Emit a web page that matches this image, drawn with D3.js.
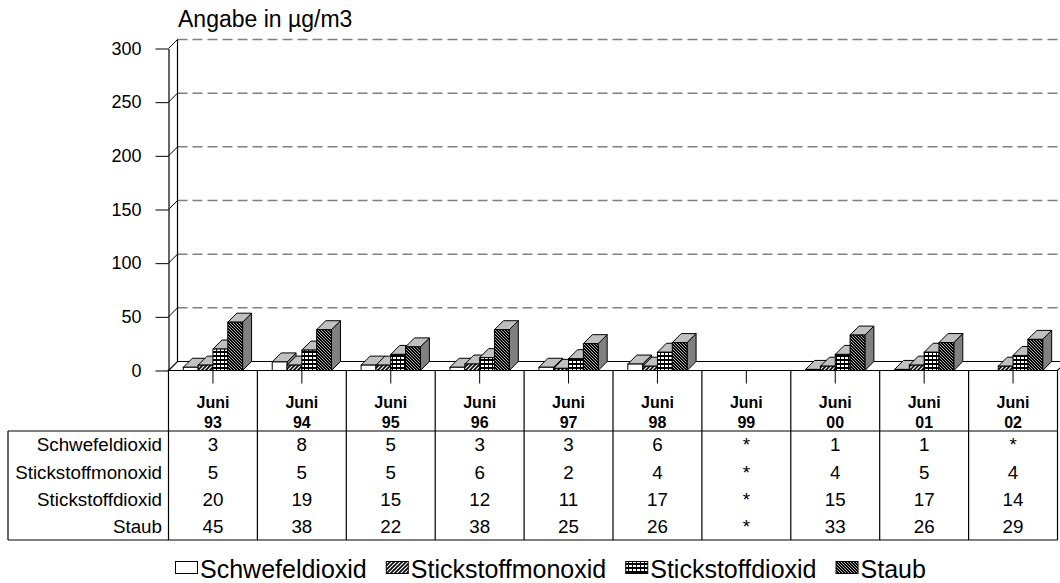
<!DOCTYPE html>
<html>
<head>
<meta charset="utf-8">
<script src="https://cdn.jsdelivr.net/npm/d3@7"></script>
<style>
  body { margin: 0; background: #fff; }
  svg { display: block; font-family: "Liberation Sans", Arial, sans-serif; }
</style>
</head>
<body>
<div id="chart"></div>
<script>
// chart values
const catMonth = "Juni";
const catYears = ["93", "94", "95", "96", "97", "98", "99", "00", "01", "02"];
const seriesNames = ["Schwefeldioxid", "Stickstoffmonoxid", "Stickstoffdioxid", "Staub"];
const schwefeldioxid = [3, 8, 5, 3, 3, 6, null, 1, 1, null];
const stickstoffmonoxid = [5, 5, 5, 6, 2, 4, null, 4, 5, 4];
const stickstoffdioxid = [20, 19, 15, 12, 11, 17, null, 15, 17, 14];
const staub = [45, 38, 22, 38, 25, 26, null, 33, 26, 29];
const yTicks = [0, 50, 100, 150, 200, 250, 300];

const seriesValues = [schwefeldioxid, stickstoffmonoxid, stickstoffdioxid, staub];
const fills = ["#ffffff", "url(#pMono)", "url(#pDi)", "url(#pStaub)"];

let width = 1060, height = 583;
let depth = 9; // 3d offset

let svg = d3.select("#chart").append("svg")
  .attr("width", width)
  .attr("height", height);

// patterns
let defs = svg.append("defs");
let p1 = defs.append("pattern").attr("id", "pMono").attr("patternUnits", "userSpaceOnUse")
  .attr("width", 4).attr("height", 4);
p1.append("rect").attr("width", 4).attr("height", 4).attr("fill", "#fff");
p1.append("path").attr("d", "M-1,1 l2,-2 M0,4 l4,-4 M3,5 l2,-2")
  .attr("stroke", "#000").attr("stroke-width", 1.6);

let p2 = defs.append("pattern").attr("id", "pDi").attr("patternUnits", "userSpaceOnUse")
  .attr("width", 4).attr("height", 4);
p2.append("rect").attr("width", 4).attr("height", 4).attr("fill", "#000");
p2.append("rect").attr("x", 1).attr("y", 1).attr("width", 3).attr("height", 2).attr("fill", "#fff");

let p3 = defs.append("pattern").attr("id", "pStaub").attr("patternUnits", "userSpaceOnUse")
  .attr("width", 3).attr("height", 3);
p3.append("rect").attr("width", 3).attr("height", 3).attr("fill", "#000");
p3.append("path").attr("d", "M-1,-1 l5,5 M-1,2 l2,2 M2,-1 l2,2")
  .attr("stroke", "#fff").attr("stroke-width", 0.7);

// scales
let x = d3.scaleBand().domain(d3.range(catYears.length)).range([168.5, 1057.5]);
let xs = d3.scaleBand().domain(seriesNames).range([0, x.bandwidth()])
  .paddingInner(0).paddingOuter(1);
let y = d3.scaleLinear().domain([0, 300]).range([370.5, 48.5]);

let x0 = x.range()[0], x1 = x.range()[1];
let yBase = y(0);

// title
svg.append("text")
  .attr("x", 178).attr("y", 27)
  .attr("font-size", 23)
  .text("Angabe in µg/m3");

// floor
svg.append("path")
  .attr("d", "M" + x0 + "," + yBase + "L" + x1 + "," + yBase + "L" + (x1 + depth) + "," + (yBase - depth) +
    "L" + (x0 + depth) + "," + (yBase - depth) + "Z")
  .attr("fill", "#fff").attr("stroke", "#000").attr("stroke-width", 1.2);

// back wall gridlines
svg.selectAll(".grid")
  .data(yTicks.filter(d => d > 0))
  .enter().append("line")
  .attr("class", "grid")
  .attr("x1", x0 + depth).attr("x2", width)
  .attr("y1", d => y(d) - depth).attr("y2", d => y(d) - depth)
  .attr("stroke", "#808080").attr("stroke-width", 1.5)
  .attr("stroke-dasharray", "10,5");

// side wall gridlines
svg.selectAll(".sgrid")
  .data(yTicks)
  .enter().append("line")
  .attr("class", "sgrid")
  .attr("x1", x0).attr("x2", x0 + depth)
  .attr("y1", d => y(d)).attr("y2", d => y(d) - depth)
  .attr("stroke", "#000").attr("stroke-width", 1);

// side wall back edge
svg.append("line")
  .attr("x1", x0 + depth).attr("x2", x0 + depth)
  .attr("y1", y(300) - depth).attr("y2", yBase - depth)
  .attr("stroke", "#000").attr("stroke-width", 1.2);

// y axis
let yAxis = d3.axisLeft(y).tickValues(yTicks).tickSize(13).tickPadding(14).tickSizeOuter(0);
let gy = svg.append("g")
  .attr("transform", "translate(" + x0 + ",0)")
  .call(yAxis);
gy.select(".domain").attr("stroke", "#000").attr("stroke-width", 1.2);
gy.selectAll(".tick line").attr("stroke", "#000");
gy.selectAll(".tick text")
  .attr("font-size", 18)
  .attr("font-family", "Liberation Sans, Arial, sans-serif")
  .attr("fill", "#000");

// bars, left to right so each hides the previous side face
let bars = [];
catYears.forEach(function(c, i) {
  seriesNames.forEach(function(s, j) {
    let v = seriesValues[j][i];
    if (v !== null) bars.push({ cat: i, series: s, idx: j, value: v });
  });
});

let gBars = svg.append("g");
bars.forEach(function(d) {
  let bx = x(d.cat) + xs(d.series);
  let bw = xs.bandwidth();
  let top = y(d.value);
  let g = gBars.append("g");
  // side
  g.append("path")
    .attr("d", "M" + (bx + bw) + "," + top + "L" + (bx + bw + depth) + "," + (top - depth) +
      "L" + (bx + bw + depth) + "," + (yBase - depth) + "L" + (bx + bw) + "," + yBase + "Z")
    .attr("fill", "#808080").attr("stroke", "#000").attr("stroke-width", 1)
    .attr("stroke-linejoin", "round");
  // top
  g.append("path")
    .attr("d", "M" + bx + "," + top + "L" + (bx + bw) + "," + top + "L" + (bx + bw + depth) + "," + (top - depth) +
      "L" + (bx + depth) + "," + (top - depth) + "Z")
    .attr("fill", "#c0c0c0").attr("stroke", "#000").attr("stroke-width", 1)
    .attr("stroke-linejoin", "round");
  // front
  g.append("rect")
    .attr("x", bx).attr("y", top)
    .attr("width", bw).attr("height", yBase - top)
    .attr("fill", fills[d.idx]).attr("stroke", "#000").attr("stroke-width", 1);
});

// floor front edge on top again
svg.append("line")
  .attr("x1", x0).attr("x2", x1).attr("y1", yBase).attr("y2", yBase)
  .attr("stroke", "#000").attr("stroke-width", 1.2);

// table
let headTop = yBase, dataTop = 431, rowH = 27.25;
let tableBottom = dataTop + rowH * seriesNames.length;
let tbl = svg.append("g").attr("font-size", 18.8).attr("fill", "#000");

// category ticks
tbl.selectAll(".ctick")
  .data(catYears)
  .enter().append("line")
  .attr("x1", (d, i) => x(i) + x.bandwidth() / 2)
  .attr("x2", (d, i) => x(i) + x.bandwidth() / 2)
  .attr("y1", headTop).attr("y2", headTop + 13)
  .attr("stroke", "#000");

// column lines
tbl.selectAll(".cline")
  .data(d3.range(catYears.length + 1))
  .enter().append("line")
  .attr("x1", i => x0 + i * x.bandwidth())
  .attr("x2", i => x0 + i * x.bandwidth())
  .attr("y1", headTop).attr("y2", tableBottom)
  .attr("stroke", "#000").attr("stroke-width", 1.2);

tbl.append("line").attr("x1", 8).attr("x2", x1).attr("y1", dataTop).attr("y2", dataTop)
  .attr("stroke", "#000").attr("stroke-width", 1.2);
tbl.append("line").attr("x1", 8).attr("x2", x1).attr("y1", tableBottom).attr("y2", tableBottom)
  .attr("stroke", "#000").attr("stroke-width", 1.2);
tbl.append("line").attr("x1", 8).attr("x2", 8).attr("y1", dataTop).attr("y2", tableBottom)
  .attr("stroke", "#000").attr("stroke-width", 1.2);

// header labels
let head = tbl.selectAll(".head")
  .data(catYears)
  .enter().append("text")
  .attr("text-anchor", "middle")
  .attr("font-weight", "bold")
  .attr("font-size", 16)
  .attr("x", (d, i) => x(i) + x.bandwidth() / 2);
head.append("tspan").attr("x", (d, i) => x(i) + x.bandwidth() / 2).attr("y", 408).text(catMonth);
head.append("tspan").attr("x", (d, i) => x(i) + x.bandwidth() / 2).attr("y", 428).text(d => d);

// row labels and values
seriesNames.forEach(function(s, j) {
  let cy = dataTop + rowH * j + rowH / 2 + 6.7;
  tbl.append("text")
    .attr("x", 162).attr("y", cy)
    .attr("text-anchor", "end")
    .text(s);
  tbl.selectAll(".v" + j)
    .data(seriesValues[j])
    .enter().append("text")
    .attr("x", (d, i) => x(i) + x.bandwidth() / 2)
    .attr("y", cy)
    .attr("text-anchor", "middle")
    .text(d => d === null ? "*" : d);
});

// legend
let legend = svg.append("g").attr("font-size", 25);
let lx = 175, ly = 578;
seriesNames.forEach(function(s, j) {
  legend.append("rect")
    .attr("x", lx + 0.5).attr("y", ly - 16.5)
    .attr("width", 22).attr("height", 12)
    .attr("fill", fills[j]).attr("stroke", "#000").attr("stroke-width", 1);
  let t = legend.append("text")
    .attr("x", lx + 25).attr("y", ly)
    .text(s);
  lx = lx + 25 + t.node().getComputedTextLength() + 19;
});
</script>
</body>
</html>
